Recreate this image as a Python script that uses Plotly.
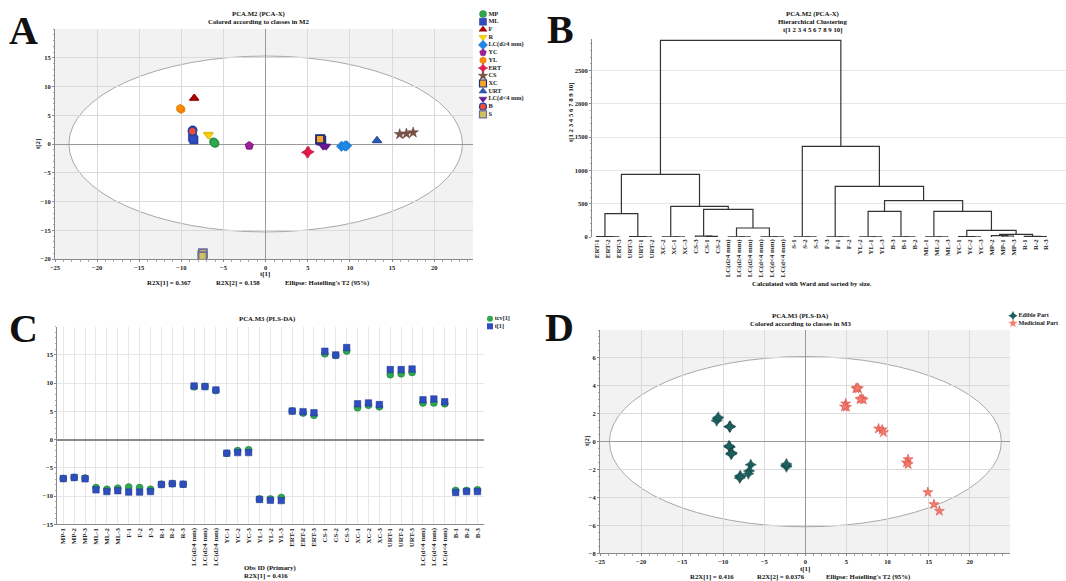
import plotly.graph_objects as go

W, H = 1066, 581
FONT = "Liberation Serif"


def px(x):
    return x / W


def py(y):
    return 1 - y / H


# ---------------- Panel A data (PCA-X scores) ----------------
a_classes = ["MP", "ML", "F", "R", "LC(d≥4 mm)", "YC", "YL", "ERT", "CS", "XC",
             "URT", "LC(d&lt;4 mm)", "B", "S"]
a_t1 = [[-6.2, -6.0, -6.1], [-8.7, -8.5, -8.6], [-8.5, -8.5, -8.45], [-6.85, -6.8, -6.75],
        [9.0, 9.6, 9.4], [-2.0, -1.9, -1.95], [-10.1, -10.0, -10.15], [5.0, 4.9, 5.1],
        [15.9, 16.7, 17.5], [6.5, 6.6, 6.45], [13.2, 13.25, 13.2], [6.8, 7.2, 7.0],
        [-8.7, -8.65, -8.7], [-7.5, -7.45, -7.5]]
a_t2 = [[0.4, 0.1, 0.2], [1.2, 0.7, 0.9], [8.0, 7.9, 8.0], [1.6, 1.7, 1.5],
        [-0.4, -0.3, -0.35], [-0.3, -0.35, -0.25], [6.1, 6.0, 6.2], [-1.4, -1.5, -1.35],
        [1.7, 1.8, 2.0], [0.75, 0.6, 0.85], [0.6, 0.55, 0.65], [-0.4, -0.4, -0.35],
        [2.3, 2.4, 2.2], [-19.3, -19.0, -19.5]]
a_ellipse = [23.35, 15.3]

a_symbols = ["circle", "square", "triangle-up", "triangle-down", "diamond", "pentagon",
             "hexagon", "star-diamond", "star", "square", "triangle-up", "triangle-down",
             "circle", "square"]
a_colors = ["#2FA84F", "#2E4DBF", "#B00000", "#FFD200", "#1E88E5", "#A0209A", "#FF8C00",
            "#E8194B", "#7B5044", "#F4A52A", "#2B5BB5", "#6A1B9A", "#E8503A", "#CFC35A"]
a_lines = ["#1E7A36", "#1E3590", "#800000", "#C9A400", "#1565C0", "#701070", "#C86A00",
           "#B0103A", "#5A382E", "#1F2F7A", "#1E4090", "#4A1070", "#2A3F9F", "#6F6F99"]
a_linew = [0.5, 0.5, 0.5, 0.5, 0.5, 0.5, 0.5, 0.5, 0.5, 1.8, 0.5, 0.5, 1.4, 1.8]

# ---------------- Panel B data (dendrogram) ----------------
b_leaves = ["ERT-1", "ERT-2", "ERT-3", "URT-3", "URT-1", "URT-2", "XC-2", "XC-1", "XC-3",
            "CS-3", "CS-1", "CS-2", "LC(d≥4 mm)", "LC(d≥4 mm)", "LC(d≥4 mm)",
            "LC(d&lt;4 mm)", "LC(d&lt;4 mm)", "LC(d&lt;4 mm)", "S-1", "S-2", "S-3",
            "F-3", "F-1", "F-2", "YL-2", "YL-1", "YL-3", "B-3", "B-1", "B-2",
            "ML-1", "ML-2", "ML-3", "YC-1", "YC-2", "YC-3", "MP-2", "MP-1", "MP-3",
            "R-1", "R-2", "R-3"]
b_groups = ["ERT", "URT", "XC", "CS", "LCa", "LCb", "S", "F", "YL", "B", "ML", "YC", "MP", "R"]
b_inner_h1 = [3, 2, 2, 8, 2, 2, 2, 2, 2, 2, 2, 2, 15, 5]
b_inner_h2 = [6, 5, 4, 12, 4, 4, 4, 4, 4, 4, 4, 5, 22, 10]
b_merges = [("ERT", "URT", "EU", 350), ("LCa", "LCb", "LC", 135), ("CS", "LC", "CSLC", 415),
            ("XC", "CSLC", "XCL", 460), ("EU", "XCL", "LEFT", 940), ("MP", "R", "MPR", 40),
            ("YC", "MPR", "YMR", 100), ("ML", "YMR", "MLY", 385), ("YL", "B", "YLB", 385),
            ("YLB", "MLY", "MID", 545), ("F", "MID", "FM", 760), ("S", "FM", "RIGHT", 1360),
            ("LEFT", "RIGHT", "ALL", 2950)]

# ---------------- Panel C data (PLS-DA scores per observation) ----------------
c_labels = ["MP-1", "MP-2", "MP-3", "ML-1", "ML-2", "ML-3", "F-1", "F-2", "F-3",
            "R-1", "R-2", "R-3", "LC(d≥4 mm)", "LC(d≥4 mm)", "LC(d≥4 mm)",
            "YC-1", "YC-2", "YC-3", "YL-1", "YL-2", "YL-3", "ERT-1", "ERT-2", "ERT-3",
            "CS-1", "CS-2", "CS-3", "XC-1", "XC-2", "XC-3", "URT-1", "URT-2", "URT-3",
            "LC(d&lt;4 mm)", "LC(d&lt;4 mm)", "LC(d&lt;4 mm)", "B-1", "B-2", "B-3"]
c_tcv = [-6.9, -6.7, -6.8, -8.5, -8.8, -8.6, -8.4, -8.5, -8.8, -7.9, -7.8, -7.9,
         9.35, 9.4, 8.7, -2.4, -1.95, -1.8, -10.5, -10.5, -10.25, 5.05, 4.7, 4.3,
         15.2, 14.9, 15.7, 5.65, 6.1, 5.8, 11.5, 11.65, 11.9, 6.5, 6.5, 6.35, -9.0, -9.0, -8.9]
c_t1 = [-6.9, -6.7, -6.95, -8.9, -9.2, -9.05, -9.3, -9.3, -9.2, -7.95, -7.8, -7.9,
        9.5, 9.4, 8.8, -2.4, -2.3, -2.3, -10.6, -10.75, -10.8, 5.05, 4.95, 4.75,
        15.65, 15.0, 16.3, 6.35, 6.5, 6.2, 12.4, 12.4, 12.5, 7.05, 7.2, 6.7, -9.35, -9.2, -9.2]

# ---------------- Panel D data (PLS-DA score plot) ----------------
d_edible_t1 = [-10.7, -10.8, -10.6, -9.25, -9.15, -9.2, -9.25, -9.2, -9.3, -8.95, -9.05, -9.0,
               -6.65, -6.85, -6.95, -7.95, -8.0, -7.9, -2.35, -2.3, -2.3]
d_edible_t2 = [1.65, 1.5, 1.75, 1.08, 1.1, 1.05, -0.35, -0.4, -0.3, -0.8, -0.9, -0.85,
               -1.65, -2.1, -2.3, -2.45, -2.6, -2.5, -1.7, -1.8, -1.6]
d_med_t1 = [6.15, 6.45, 6.3, 6.85, 7.05, 6.65, 4.9, 5.0, 4.75, 8.9, 9.35, 9.5,
            12.5, 12.3, 12.5, 14.9, 15.65, 16.3]
d_med_t2 = [3.8, 3.8, 3.85, 3.08, 3.0, 3.03, 2.72, 2.48, 2.5, 0.93, 0.86, 0.67,
            -1.27, -1.5, -1.62, -3.63, -4.49, -4.97]
d_ellipse = [23.85, 6.1]

SMALL = 6.8
TICK = 6.5

fig = go.Figure()

# ---- Panel A traces
for i, name in enumerate(a_classes):
    fig.add_trace(go.Scatter(
        x=a_t1[i], y=a_t2[i], mode="markers", name=name, showlegend=False,
        xaxis="x", yaxis="y",
        marker=dict(symbol=a_symbols[i], size=8, color=a_colors[i],
                    line=dict(color=a_lines[i], width=a_linew[i]))))

# legend A (compact legend drawn on a pixel overlay axis)
leg_a_y = [14 + 7.72 * i for i in range(len(a_classes))]
fig.add_trace(go.Scatter(
    x=[483] * len(a_classes), y=leg_a_y, mode="markers+text", text=a_classes,
    textposition="middle right", showlegend=False, xaxis="x5", yaxis="y5",
    textfont=dict(family=FONT, size=6.3, color="#222", weight="bold"),
    marker=dict(symbol=a_symbols, size=7, color=a_colors,
                line=dict(color=a_lines, width=[min(w, 1.2) for w in a_linew]))))

# ---- Panel B dendrogram
pos, hgt = {}, {}
bx, by = [], []
for k, g in enumerate(b_groups):
    i = 3 * k
    h1, h2 = b_inner_h1[k], b_inner_h2[k]
    pair = (i + 1 + i + 2) / 2
    bx += [i + 1, i + 1, i + 2, i + 2, None]
    by += [0, h1, h1, 0, None]
    bx += [i, i, pair, pair, None]
    by += [0, h2, h2, h1, None]
    pos[g] = (i + pair) / 2
    hgt[g] = h2
for left, right, new, h in b_merges:
    bx += [pos[left], pos[left], pos[right], pos[right], None]
    by += [hgt[left], h, h, hgt[right], None]
    pos[new] = (pos[left] + pos[right]) / 2
    hgt[new] = h
fig.add_trace(go.Scatter(x=bx, y=by, mode="lines", showlegend=False, xaxis="x2", yaxis="y2",
                         line=dict(color="#333333", width=1.2)))

# ---- Panel C traces
cx = list(range(len(c_labels)))
fig.add_trace(go.Scatter(x=cx, y=c_tcv, mode="markers", name="tcv[1]", showlegend=False,
                         xaxis="x3", yaxis="y3",
                         marker=dict(symbol="circle", size=7, color="#2FA84F",
                                     line=dict(color="#1E7A36", width=0.5))))
fig.add_trace(go.Scatter(x=cx, y=c_t1, mode="markers", name="t[1]", showlegend=False,
                         xaxis="x3", yaxis="y3",
                         marker=dict(symbol="square", size=6.5, color="#2E4DBF",
                                     line=dict(color="#1E3590", width=0.5))))
c_leg = ["tcv[1]", "t[1]"]
fig.add_trace(go.Scatter(x=[490, 490], y=[318.7, 326.3], mode="markers+text", text=c_leg,
                         textposition="middle right", showlegend=False, xaxis="x5", yaxis="y5",
                         textfont=dict(family=FONT, size=6.2, color="#222", weight="bold"),
                         marker=dict(symbol=["circle", "square"], size=6,
                                     color=["#2FA84F", "#2E4DBF"])))

# ---- Panel D traces
fig.add_trace(go.Scatter(x=d_edible_t1, y=d_edible_t2, mode="markers", name="Edible Part",
                         showlegend=False, xaxis="x4", yaxis="y4",
                         marker=dict(symbol="star-diamond", size=8, color="#1D5E5E",
                                     line=dict(color="#0F3F3F", width=0.5))))
fig.add_trace(go.Scatter(x=d_med_t1, y=d_med_t2, mode="markers", name="Medicinal Part",
                         showlegend=False, xaxis="x4", yaxis="y4",
                         marker=dict(symbol="star", size=7.5, color="#F47C6B",
                                     line=dict(color="#D9534F", width=0.6))))
d_leg = ["Edible Part", "Medicinal Part"]
fig.add_trace(go.Scatter(x=[1013, 1013], y=[315.7, 323.3], mode="markers+text", text=d_leg,
                         textposition="middle right", showlegend=False, xaxis="x5", yaxis="y5",
                         textfont=dict(family=FONT, size=6.2, color="#222", weight="bold"),
                         marker=dict(symbol=["star-diamond", "star"], size=7,
                                     color=["#1D5E5E", "#F47C6B"])))


def ax(domain, rng, **kw):
    d = dict(domain=domain, range=rng, automargin=False, showline=True, linecolor="#8A8A8A",
             linewidth=1, ticks="outside", ticklen=2, tickcolor="#8A8A8A",
             tickfont=dict(family=FONT, size=TICK, color="#222", weight="bold"),
             showgrid=True, gridcolor="#DADADA", gridwidth=1, zeroline=False, mirror=False)
    d.update(kw)
    return d


minor = dict(ticks="outside", ticklen=1.5, tickcolor="#AAAAAA", showgrid=False)
rot = dict(family=FONT, size=SMALL, color="#222", weight="bold")

layout = dict(
    width=W, height=H, margin=dict(l=0, r=0, t=0, b=0),
    paper_bgcolor="white", plot_bgcolor="rgba(0,0,0,0)", showlegend=False,
    xaxis=ax([px(55), px(473)], [-25, 24.6], anchor="y", tickvals=list(range(-25, 21, 5)),
             zeroline=True, zerolinecolor="#999999", zerolinewidth=1,
             minor=dict(minor, dtick=1)),
    yaxis=ax([py(259), py(29)], [-20, 20], anchor="x", tickvals=list(range(-20, 16, 5)),
             zeroline=True, zerolinecolor="#999999", zerolinewidth=1,
             minor=dict(minor, dtick=1)),
    xaxis2=ax([px(592), 1.0], [-0.43, 42.8], anchor="y2", tickvals=list(range(len(b_leaves))),
              ticktext=b_leaves, tickangle=-90, showgrid=False, showline=False, ticks="",
              tickfont=rot),
    yaxis2=ax([py(237), py(39)], [0, 2970], anchor="x2", tickvals=list(range(0, 2501, 500)),
              gridcolor="#E6E6E6", minor=dict(minor, dtick=100)),
    xaxis3=ax([px(57.3), px(484)], [-0.55, 38.6], anchor="y3", tickvals=cx, ticktext=c_labels,
              tickangle=-90, gridcolor="#E6E6E6", ticks="", tickfont=rot),
    yaxis3=ax([py(524.3), py(326.7)], [-15, 20], anchor="x3", tickvals=list(range(-15, 16, 5)),
              gridcolor="#E6E6E6", zeroline=True, zerolinecolor="#8A8A8A", zerolinewidth=1.5,
              minor=dict(minor, dtick=1)),
    xaxis4=ax([px(600), px(1010)], [-25, 24.9], anchor="y4", tickvals=list(range(-25, 21, 5)),
              zeroline=True, zerolinecolor="#999999", zerolinewidth=1,
              minor=dict(minor, dtick=1)),
    yaxis4=ax([py(553.3), py(330)], [-8, 8], anchor="x4", tickvals=list(range(-8, 7, 2)),
              zeroline=True, zerolinecolor="#999999", zerolinewidth=1,
              minor=dict(minor, dtick=0.5)),
    xaxis5=dict(domain=[0, 1], range=[0, W], visible=False, anchor="y5", fixedrange=True),
    yaxis5=dict(domain=[0, 1], range=[H, 0], visible=False, anchor="x5", fixedrange=True),
)

shapes = []
for xr, yr, (ea, eb) in [("x", "y", a_ellipse), ("x4", "y4", d_ellipse)]:
    shapes.append(dict(type="rect", xref=xr + " domain", yref=yr + " domain", x0=0, x1=1,
                       y0=0, y1=1, fillcolor="#F2F2F2", line=dict(width=0), layer="below"))
    shapes.append(dict(type="circle", xref=xr, yref=yr, x0=-ea, x1=ea, y0=-eb, y1=eb,
                       fillcolor="white", line=dict(color="#A8A8A8", width=1), layer="below"))
layout["shapes"] = shapes

ann = []


def txt(x, y, s, size=SMALL, angle=0, bold=True):
    ann.append(dict(x=px(x), y=py(y), xref="paper", yref="paper", text=s, showarrow=False,
                    textangle=angle, xanchor="center", yanchor="middle",
                    font=dict(family=FONT, size=size, color="#111",
                              weight="bold" if bold else "normal")))


# Panel letters
for letter, lx, ly in [("A", 23, 31), ("B", 560, 30), ("C", 23, 328), ("D", 559, 327)]:
    txt(lx, ly, letter, size=40)

# Panel A text
txt(258, 14, "PCA.M2 (PCA-X)")
txt(258, 22, "Colored according to classes in M2")
txt(265, 273.5, "t[1]")
txt(169, 283, "R2X[1] = 0.367")
txt(238, 283, "R2X[2] = 0.158")
txt(327, 283, "Ellipse: Hotelling's T2 (95%)")
txt(38, 144, "t[2]", angle=-90)

# Panel B text
txt(812, 14, "PCA.M2 (PCA-X)")
txt(812, 22, "Hierarchical Clustering")
txt(812, 30, "t[1 2 3 4 5 6 7 8 9 10]")
txt(571, 113, "t[1 2 3 4 5 6 7 8 9 10]", angle=-90)
txt(812, 283, "Calculated with Ward and sorted by size.")

# Panel C text
txt(267, 319, "PCA.M3 (PLS-DA)")
txt(270, 568, "Obs ID (Primary)")
txt(266, 576, "R2X[1] = 0.416")

# Panel D text
txt(800, 316, "PCA.M3 (PLS-DA)")
txt(800, 323.5, "Colored according to classes in M3")
txt(805, 568.5, "t[1]")
txt(712, 576.5, "R2X[1] = 0.416")
txt(781, 576.5, "R2X[2] = 0.0376")
txt(868, 576.5, "Ellipse: Hotelling's T2 (95%)")
txt(587, 441, "t[2]", angle=-90)

layout["annotations"] = ann
fig.update_layout(**layout)
fig.write_html("out.html",
               config={"displayModeBar": False},
               post_script="document.body.style.margin='0px';"
                           "document.body.style.overflow='hidden';")
